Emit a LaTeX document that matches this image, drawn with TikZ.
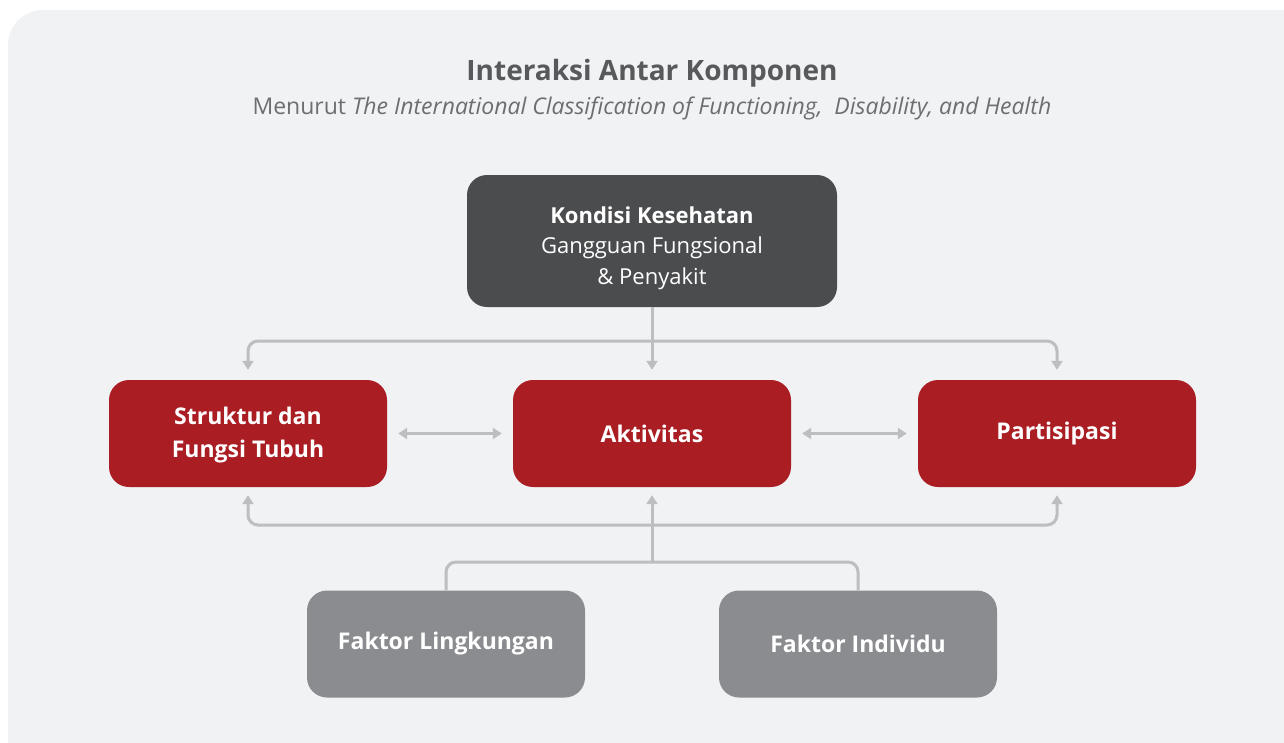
\documentclass[tikz,border=0pt]{standalone}
\usepackage{fontspec}
\setmainfont{Open Sans}
\usetikzlibrary{arrows.meta, positioning}
\definecolor{bgcol}{HTML}{F1F2F4}
\definecolor{titlecol}{HTML}{58595B}
\definecolor{subcol}{HTML}{6D6E71}
\definecolor{darkcol}{HTML}{4B4C4E}
\definecolor{redcol}{HTML}{A91D23}
\definecolor{graycol}{HTML}{8B8C90}
\definecolor{linecol}{HTML}{BCBEC0}

\begin{document}
\begin{tikzpicture}[x=1pt,y=-1pt,
  box/.style={rounded corners=20pt, minimum width=278pt, minimum height=107pt,
    align=center, text=white, font=\fontsize{23}{33}\selectfont\bfseries},
  link/.style={draw=linecol, line width=3pt, rounded corners=10pt},
  tip/.style={-{Triangle[width=11pt,length=9pt]}},
  twotip/.style={{Triangle[width=11pt,length=9pt]}-{Triangle[width=11pt,length=9pt]}}
]
\useasboundingbox (0,0) rectangle (1284,742);
\clip (0,0) rectangle (1284,742);
% Background
\fill[bgcol, rounded corners=35pt] (8,10) rectangle (1320,780);

% Title
\node[text=titlecol, font=\fontsize{28}{34}\selectfont\bfseries] (title) at (652,73) {Interaksi Antar Komponen};
\node[text=subcol, font=\fontsize{23}{28}\selectfont] (subtitle) at (652,108)
  {Menurut \textit{The International Classification of Functioning,\ \ Disability, and Health}};

% Boxes
\node[box, fill=darkcol, minimum width=370pt, minimum height=132pt, font=\fontsize{22}{30.5}\selectfont] (kondisi) at (652,241)
  {\rule{0pt}{31pt}\textbf{Kondisi Kesehatan}\\ Gangguan Fungsional\\ \& Penyakit};
\node[box, fill=redcol] (struktur) at (248,433.5) {\rule{0pt}{21pt}Struktur dan\\ Fungsi Tubuh};
\node[box, fill=redcol] (aktivitas) at (652,433.5) {Aktivitas};
\node[box, fill=redcol] (partisipasi) at (1057,433.5) {Partisipasi};
\node[box, fill=graycol] (lingkungan) at (446,644) {Faktor Lingkungan};
\node[box, fill=graycol] (individu) at (858,644) {Faktor Individu};

% Connectors
\coordinate (split) at (652,341);
\coordinate (merge) at (652,525);
\coordinate (join) at (652,562);
\draw[link, tip, shorten >=10pt] (kondisi.south) -- (aktivitas.north);
\draw[link, tip, shorten >=10pt] (split) -| (struktur.north);
\draw[link, tip, shorten >=10pt] (split) -| (partisipasi.north);
\draw[link, twotip, shorten <=11pt, shorten >=11pt] (struktur) -- (aktivitas);
\draw[link, twotip, shorten <=11pt, shorten >=11pt] (aktivitas) -- (partisipasi);
\draw[link, tip, shorten >=8pt] (merge) -| (struktur.south);
\draw[link, tip, shorten >=8pt] (merge) -| (partisipasi.south);
\draw[link, tip, shorten >=8pt] (join) -- (aktivitas.south);
\draw[link] (lingkungan.north) |- (join) -| (individu.north);
\end{tikzpicture}
\end{document}
